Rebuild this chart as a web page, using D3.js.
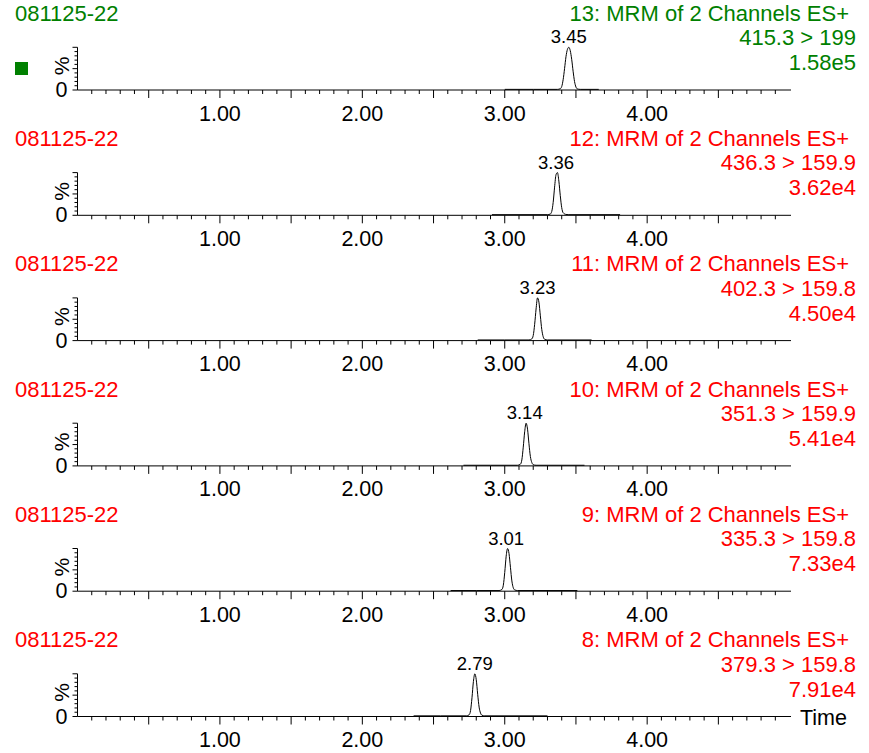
<!DOCTYPE html>
<html>
<head>
<meta charset="utf-8">
<script src="https://cdn.jsdelivr.net/npm/d3@7"></script>
<style>
  html, body { margin: 0; padding: 0; background: #fff; }
  svg { display: block; font-family: "Liberation Sans", Arial, sans-serif; }
</style>
</head>
<body>
<svg id="chart" width="869" height="753"></svg>
<script>
// MRM chromatograms, one panel per channel (top to bottom)
const sampleName = "081125-22";
const channelNames = ["13: MRM of 2 Channels ES+", "12: MRM of 2 Channels ES+", "11: MRM of 2 Channels ES+",
                      "10: MRM of 2 Channels ES+", "9: MRM of 2 Channels ES+", "8: MRM of 2 Channels ES+"];
const transitions = ["415.3 > 199", "436.3 > 159.9", "402.3 > 159.8", "351.3 > 159.9", "335.3 > 159.8", "379.3 > 159.8"];
const intensities = ["1.58e5", "3.62e4", "4.50e4", "5.41e4", "7.33e4", "7.91e4"];
const peakTimes = [3.45, 3.36, 3.23, 3.14, 3.01, 2.79];
const panelColors = ["#008000", "#ff0000", "#ff0000", "#ff0000", "#ff0000", "#ff0000"];
const selectedPanel = [true, false, false, false, false, false];
const timeLabels = [1, 2, 3, 4];

// traces: [retention time (min), relative intensity (%)]
const trace13 = [[3.00,1.5],[3.20,1.5],[3.37,1.5],[3.39,3],[3.40,8],[3.41,24],[3.42,50],[3.43,78],[3.44,95],[3.45,100],
                 [3.46,92],[3.47,72],[3.48,44],[3.49,20],[3.50,7],[3.51,2.5],[3.53,1.5],[3.66,1.5]];
const trace12 = [[2.91,1.5],[3.10,1.5],[3.30,1.5],[3.32,3],[3.33,9],[3.34,30],[3.35,66],[3.36,95],[3.37,100],
                 [3.38,80],[3.39,46],[3.40,18],[3.41,6],[3.43,2],[3.45,1.5],[3.81,1.5]];
const trace11 = [[2.81,1.5],[3.00,1.5],[3.17,1.5],[3.19,4],[3.20,12],[3.21,38],[3.22,74],[3.23,100],
                 [3.24,90],[3.25,58],[3.26,26],[3.27,9],[3.28,3],[3.30,1.5],[3.61,1.5]];
const trace10 = [[2.71,1.5],[2.90,1.5],[3.09,1.5],[3.11,4],[3.12,14],[3.13,44],[3.14,80],[3.15,100],
                 [3.16,86],[3.17,52],[3.18,22],[3.19,8],[3.20,3],[3.22,1.5],[3.56,1.5]];
const trace9  = [[2.62,1.5],[2.80,1.5],[2.96,1.5],[2.98,4],[2.99,14],[3.00,44],[3.01,82],[3.02,100],
                 [3.03,88],[3.04,56],[3.05,24],[3.06,8],[3.07,3],[3.09,1.5],[3.51,1.5]];
const trace8  = [[2.36,1.5],[2.55,1.5],[2.73,1.5],[2.75,4],[2.76,14],[2.77,44],[2.78,82],[2.79,100],
                 [2.80,86],[2.81,52],[2.82,22],[2.83,8],[2.84,3],[2.86,1.5],[3.30,1.5]];
const traces = [trace13, trace12, trace11, trace10, trace9, trace8];

const svg = d3.select("#chart");
const headFont = 22;
const axisFont = 21.5;

const x = d3.scaleLinear().domain([0, 5.01]).range([77.5, 791]);
const panelGap = 125.3;
const baseY = 90;
const plotH = 42.7;

const minorTicks = d3.range(1, 50).map(d => d / 10);

traces.forEach((trace, i) => {
  const y0 = baseY + i * panelGap;
  const y = d3.scaleLinear().domain([0, 100]).range([y0, y0 - plotH]);
  const g = svg.append("g");
  const col = panelColors[i];

  // header text
  g.append("text").attr("x", 15).attr("y", y0 - 69.3).attr("fill", col)
    .attr("font-size", headFont).text(sampleName);
  g.append("text").attr("x", 849).attr("y", y0 - 69.3).attr("fill", col)
    .attr("font-size", headFont).attr("text-anchor", "end").text(channelNames[i]);
  g.append("text").attr("x", 856).attr("y", y0 - 45).attr("fill", col)
    .attr("font-size", headFont).attr("text-anchor", "end").text(transitions[i]);
  g.append("text").attr("x", 856).attr("y", y0 - 20).attr("fill", col)
    .attr("font-size", headFont).attr("text-anchor", "end").text(intensities[i]);

  if (selectedPanel[i]) {
    g.append("rect").attr("x", 15).attr("y", y0 - 28).attr("width", 13).attr("height", 13).attr("fill", col);
  }

  // y axis
  const yTicks = d3.range(0, 101, 10);
  g.append("line").attr("x1", x(0)).attr("x2", x(0)).attr("y1", y(100)).attr("y2", y(0))
    .attr("stroke", "#000").attr("stroke-width", 1);
  g.selectAll(".yt").data(yTicks).join("line")
    .attr("x1", d => x(0) - (d % 50 === 0 ? 5 : 3)).attr("x2", x(0))
    .attr("y1", d => y(d)).attr("y2", d => y(d))
    .attr("stroke", "#000").attr("stroke-width", 1);
  g.append("text").attr("x", 67.5).attr("y", y0 + 7).attr("font-size", axisFont)
    .attr("text-anchor", "end").attr("fill", "#000").text("0");
  g.append("text").attr("transform", `translate(69,${y0 - 24}) rotate(-90)`)
    .attr("font-size", 21).attr("text-anchor", "middle").attr("fill", "#000").text("%");

  // x axis
  g.append("line").attr("x1", x(0)).attr("x2", x(5.01)).attr("y1", y0).attr("y2", y0)
    .attr("stroke", "#000").attr("stroke-width", 1);
  g.selectAll(".xt").data(minorTicks).join("line")
    .attr("x1", d => x(d)).attr("x2", d => x(d))
    .attr("y1", y0).attr("y2", d => y0 + ((Math.round(d * 10) % 5 === 0) ? 8 : 4))
    .attr("stroke", "#000").attr("stroke-width", 1);
  g.selectAll(".xl").data(timeLabels).join("text")
    .attr("x", d => x(d)).attr("y", y0 + 30.5).attr("font-size", axisFont)
    .attr("text-anchor", "middle").attr("fill", "#000").text(d => d3.format(".2f")(d));

  // trace
  const line = d3.line().x(d => x(d[0])).y(d => y(d[1])).curve(d3.curveMonotoneX);
  g.append("path").datum(trace).attr("d", line)
    .attr("fill", "none").attr("stroke", "#000").attr("stroke-width", 1);

  // peak label
  g.append("text").attr("x", x(peakTimes[i])).attr("y", y(100) - 4).attr("font-size", 18.5)
    .attr("text-anchor", "middle").attr("fill", "#000").text(d3.format(".2f")(peakTimes[i]));

  if (i === traces.length - 1) {
    g.append("text").attr("x", 800).attr("y", y0 + 8.5).attr("font-size", axisFont)
      .attr("fill", "#000").text("Time");
  }
});
</script>
</body>
</html>
